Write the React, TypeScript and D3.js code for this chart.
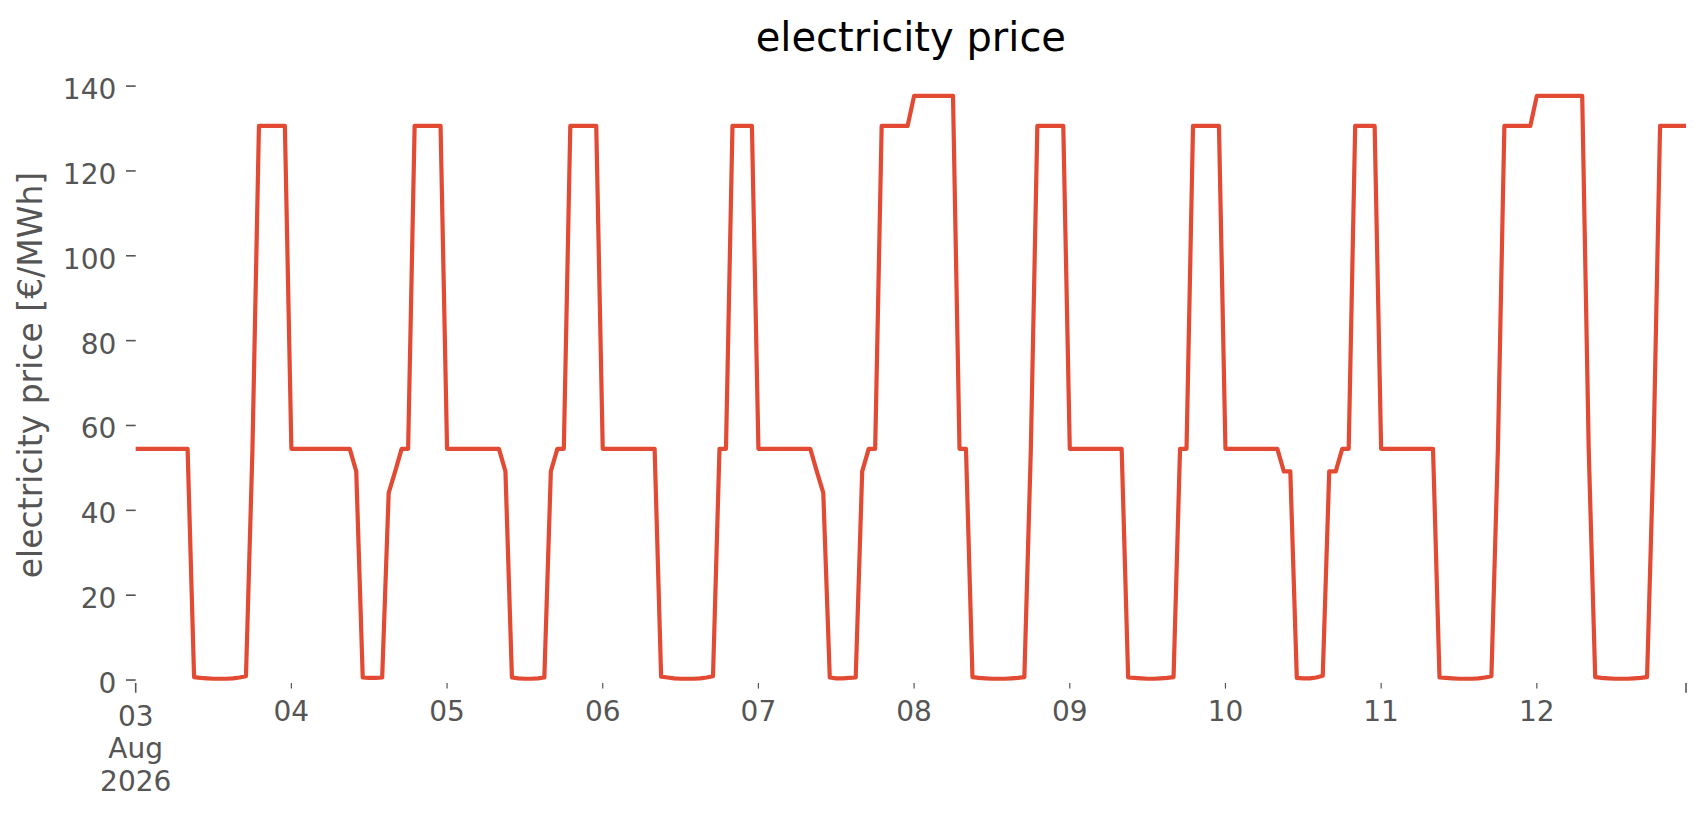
import * as d3 from 'd3';
import React, { FC, useEffect } from 'react';

// hourly day-ahead prices, €/MWh, one array per day (00:00 .. 23:00)
const aug03 = [54.5, 54.5, 54.5, 54.5, 54.5, 54.5, 54.5, 54.5, 54.5, 0.7, 0.5, 0.4, 0.3, 0.3, 0.3, 0.4, 0.6, 0.9, 54.5, 130.6, 130.6, 130.6, 130.6, 130.6];
const aug04 = [54.5, 54.5, 54.5, 54.5, 54.5, 54.5, 54.5, 54.5, 54.5, 54.5, 49.2, 0.6, 0.5, 0.5, 0.6, 44.1, 49.2, 54.5, 54.5, 130.6, 130.6, 130.6, 130.6, 130.6];
const aug05 = [54.5, 54.5, 54.5, 54.5, 54.5, 54.5, 54.5, 54.5, 54.5, 49.2, 0.6, 0.4, 0.3, 0.3, 0.4, 0.6, 49.2, 54.5, 54.5, 130.6, 130.6, 130.6, 130.6, 130.6];
const aug06 = [54.5, 54.5, 54.5, 54.5, 54.5, 54.5, 54.5, 54.5, 54.5, 0.8, 0.6, 0.4, 0.3, 0.3, 0.3, 0.4, 0.6, 0.9, 54.5, 54.5, 130.6, 130.6, 130.6, 130.6];
const aug07 = [54.5, 54.5, 54.5, 54.5, 54.5, 54.5, 54.5, 54.5, 54.5, 49.2, 44.1, 0.6, 0.4, 0.4, 0.5, 0.6, 49.2, 54.5, 54.5, 130.6, 130.6, 130.6, 130.6, 130.6];
const aug08 = [137.7, 137.7, 137.7, 137.7, 137.7, 137.7, 137.7, 54.5, 54.5, 0.7, 0.5, 0.4, 0.3, 0.3, 0.3, 0.4, 0.5, 0.7, 54.5, 130.6, 130.6, 130.6, 130.6, 130.6];
const aug09 = [54.5, 54.5, 54.5, 54.5, 54.5, 54.5, 54.5, 54.5, 54.5, 0.6, 0.5, 0.4, 0.3, 0.3, 0.4, 0.5, 0.7, 54.5, 54.5, 130.6, 130.6, 130.6, 130.6, 130.6];
const aug10 = [54.5, 54.5, 54.5, 54.5, 54.5, 54.5, 54.5, 54.5, 54.5, 49.2, 49.2, 0.5, 0.4, 0.4, 0.6, 1.0, 49.2, 49.2, 54.5, 54.5, 130.6, 130.6, 130.6, 130.6];
const aug11 = [54.5, 54.5, 54.5, 54.5, 54.5, 54.5, 54.5, 54.5, 54.5, 0.6, 0.5, 0.4, 0.3, 0.3, 0.3, 0.4, 0.6, 0.9, 54.5, 130.6, 130.6, 130.6, 130.6, 130.6];
const aug12 = [137.7, 137.7, 137.7, 137.7, 137.7, 137.7, 137.7, 137.7, 54.5, 0.7, 0.5, 0.4, 0.3, 0.3, 0.3, 0.4, 0.5, 0.7, 54.5, 130.6, 130.6, 130.6, 130.6, 130.6];

const days = [aug03, aug04, aug05, aug06, aug07, aug08, aug09, aug10, aug11, aug12];
const startDate = Date.UTC(2026, 7, 3);
const yTicks = [0, 20, 40, 60, 80, 100, 120, 140];
const dayLabels = ['04', '05', '06', '07', '08', '09', '10', '11', '12'];
const firstLabel = ['03', 'Aug', '2026'];

const App: FC = () => {
	const containerDiv = React.useRef<HTMLDivElement>(null);
	const { width, height } = { width: 1706, height: 815 };
	const margin = { top: 67, right: 20, bottom: 132, left: 135.7 };
	const grey = '#555555';
	const font = 'DejaVu Sans, sans-serif';

	const initializeChart = () => {
		const prices = days.flat();
		const data = prices.map((v, i) => ({ t: new Date(startDate + i * 3600e3), v }));

		const x: any = d3
			.scaleUtc()
			.domain([data[0].t, data[data.length - 1].t])
			.range([margin.left, width - margin.right]);

		const y: any = d3
			.scaleLinear()
			.domain([-0.7, 144.5])
			.range([height - margin.bottom, margin.top]);

		const svg = d3
			.create('svg')
			.attr('width', width)
			.attr('height', height)
			.attr('viewBox', `0 0 ${width} ${height}`)
			.style('display', 'block')
			.style('background', 'white');

		// y axis: ticks + labels
		const yAxis = svg.append('g').attr('font-family', font).attr('font-size', 28).attr('fill', grey);
		yAxis
			.selectAll('line')
			.data(yTicks)
			.join('line')
			.attr('x1', margin.left - 9.7)
			.attr('x2', margin.left)
			.attr('y1', (d: any) => y(d))
			.attr('y2', (d: any) => y(d))
			.attr('stroke', grey)
			.attr('stroke-width', 1.6);
		yAxis
			.selectAll('text')
			.data(yTicks)
			.join('text')
			.attr('x', margin.left - 19.4)
			.attr('y', (d: any) => y(d) + 13)
			.attr('text-anchor', 'end')
			.text((d: any) => d);

		// x axis: daily minor ticks with labels, major ticks at both ends
		const bottom = height - margin.bottom;
		const dayTicks = d3.utcDay.range(d3.utcDay.offset(data[0].t, 1), data[data.length - 1].t);
		const xAxis = svg.append('g').attr('font-family', font).attr('font-size', 28).attr('fill', grey);
		xAxis
			.selectAll('line.minor')
			.data(dayTicks)
			.join('line')
			.attr('class', 'minor')
			.attr('x1', (d: any) => x(d))
			.attr('x2', (d: any) => x(d))
			.attr('y1', bottom)
			.attr('y2', bottom + 5.6)
			.attr('stroke', grey)
			.attr('stroke-width', 1.2);
		xAxis
			.selectAll('line.major')
			.data(x.domain())
			.join('line')
			.attr('class', 'major')
			.attr('x1', (d: any) => x(d))
			.attr('x2', (d: any) => x(d))
			.attr('y1', bottom)
			.attr('y2', bottom + 9.7)
			.attr('stroke', grey)
			.attr('stroke-width', 1.6);
		xAxis
			.selectAll('text.minor')
			.data(dayTicks)
			.join('text')
			.attr('class', 'minor')
			.attr('x', (d: any) => x(d))
			.attr('y', bottom + 38)
			.attr('text-anchor', 'middle')
			.text((d: any, i: number) => dayLabels[i]);
		xAxis
			.append('text')
			.attr('x', x(data[0].t))
			.attr('text-anchor', 'middle')
			.selectAll('tspan')
			.data(firstLabel)
			.join('tspan')
			.attr('x', x(data[0].t))
			.attr('y', (d: any, i: number) => bottom + 42.7 + i * 32.4)
			.text((d: any) => d);

		// price line
		const line = d3
			.line<any>()
			.x((d: any) => x(d.t))
			.y((d: any) => y(d.v));
		svg.append('path')
			.datum(data)
			.attr('d', line)
			.attr('fill', 'none')
			.attr('stroke', '#E24A33')
			.attr('stroke-width', 4.2)
			.attr('stroke-linejoin', 'round');

		// labels
		svg.append('text')
			.attr('transform', `translate(42,${(margin.top + bottom) / 2}) rotate(-90)`)
			.attr('text-anchor', 'middle')
			.attr('font-family', font)
			.attr('font-size', 33)
			.attr('fill', grey)
			.text('electricity price [€/MWh]');
		svg.append('text')
			.attr('x', (margin.left + width - margin.right) / 2)
			.attr('y', 50.7)
			.attr('text-anchor', 'middle')
			.attr('font-family', font)
			.attr('font-size', 40)
			.attr('fill', 'black')
			.text('electricity price');

		return svg.node();
	};

	useEffect(() => {
		document.body.style.margin = '0';
		const chart = initializeChart();
		const container: HTMLDivElement = containerDiv.current as HTMLDivElement;
		if (container && chart) {
			container.firstChild && container.removeChild(container.firstChild);
			container.appendChild(chart);
		}
	}, []);

	return <div ref={containerDiv}></div>;
};

export default App;
